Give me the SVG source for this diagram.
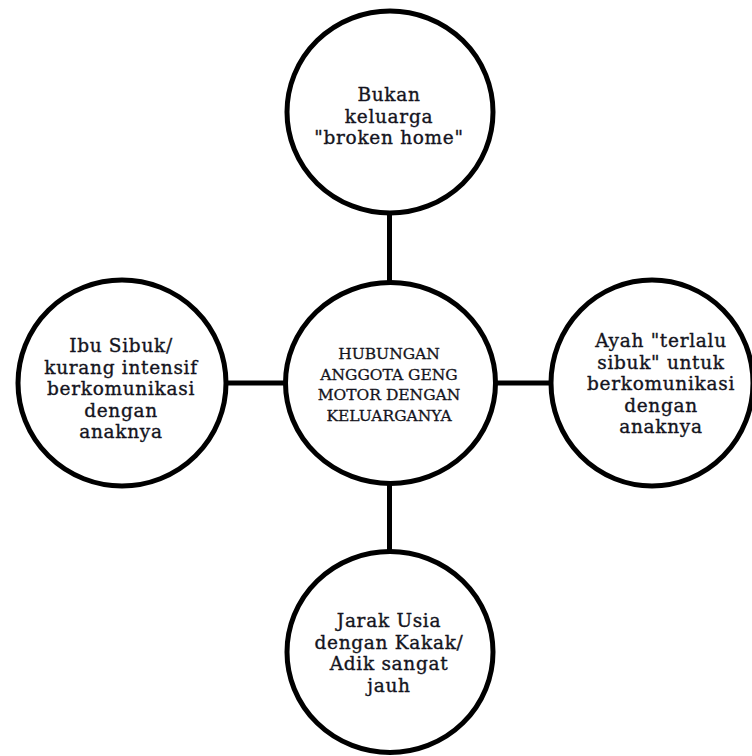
<svg xmlns="http://www.w3.org/2000/svg" width="752" height="756" viewBox="0 0 752 756">
<style>
.n{fill:#fff;stroke:#000;stroke-width:5}
.c{stroke:#000;stroke-width:5;fill:none}
.t{font-family:"DejaVu Serif","Liberation Serif",serif;font-size:18.5px;letter-spacing:0.7px;fill:#141420;stroke:#141420;stroke-width:0.35;text-anchor:middle}
.tc{font-size:15.5px;letter-spacing:0;stroke-width:0.3}
</style>
<rect width="752" height="756" fill="#fff"/>
<g id="connectors">
<line class="c" x1="389.5" y1="212" x2="389.5" y2="283"/>
<line class="c" x1="389.5" y1="484" x2="389.5" y2="551"/>
<line class="c" x1="226" y1="383" x2="286" y2="383"/>
<line class="c" x1="495" y1="383" x2="551" y2="383"/>
</g>
<g id="top">
<ellipse class="n" cx="390" cy="112" rx="103" ry="101"/>
<text class="t" x="389" y="101">Bukan</text>
<text class="t" x="389" y="122.5">keluarga</text>
<text class="t" x="389" y="144">"broken home"</text>
</g>
<g id="center">
<ellipse class="n" cx="390.5" cy="383" rx="105" ry="100.5"/>
<text class="t tc" x="389" y="359">HUBUNGAN</text>
<text class="t tc" x="389" y="379.5">ANGGOTA GENG</text>
<text class="t tc" x="389" y="400">MOTOR DENGAN</text>
<text class="t tc" x="389" y="420.5">KELUARGANYA</text>
</g>
<g id="left">
<ellipse class="n" cx="122" cy="383" rx="104" ry="103"/>
<text class="t" x="121" y="352">Ibu Sibuk/</text>
<text class="t" x="121" y="373.5">kurang intensif</text>
<text class="t" x="121" y="395">berkomunikasi</text>
<text class="t" x="121" y="416.5">dengan</text>
<text class="t" x="121" y="438">anaknya</text>
</g>
<g id="right">
<ellipse class="n" cx="652" cy="383" rx="101" ry="103"/>
<text class="t" x="661" y="347">Ayah "terlalu</text>
<text class="t" x="661" y="368.5">sibuk" untuk</text>
<text class="t" x="661" y="390">berkomunikasi</text>
<text class="t" x="661" y="411.5">dengan</text>
<text class="t" x="661" y="433">anaknya</text>
</g>
<g id="bottom">
<ellipse class="n" cx="390" cy="652" rx="103" ry="100.5"/>
<text class="t" x="389" y="627">Jarak Usia</text>
<text class="t" x="389" y="648.5">dengan Kakak/</text>
<text class="t" x="389" y="670">Adik sangat</text>
<text class="t" x="389" y="691.5">jauh</text>
</g>
</svg>
